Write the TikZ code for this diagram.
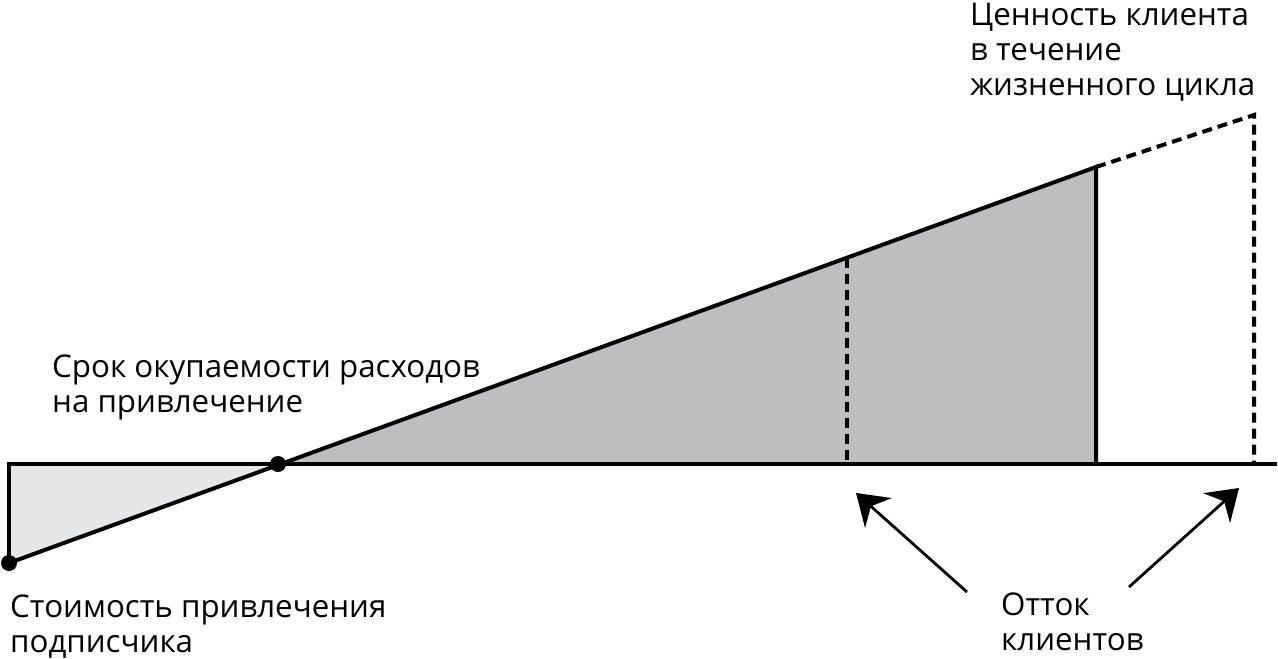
\documentclass[tikz,border=0pt]{standalone}
\usepackage{fontspec}
\setmainfont{Open Sans}
\usetikzlibrary{arrows.meta}
\definecolor{lightfill}{HTML}{E6E7E8}
\definecolor{darkfill}{HTML}{BCBEC0}
\tikzset{
  main/.style={line width=4pt, line join=miter},
  dashline/.style={line width=4pt, dash pattern=on 10pt off 6pt},
  lbl/.style={anchor=north west, inner sep=0pt, align=left, font=\fontsize{31.3}{35}\selectfont},
  arr/.style={line width=2.8pt, -{Stealth[length=30pt,width=40pt,inset=10pt]}},
  dot/.style={circle, fill=black, minimum size=16pt, inner sep=0pt}
}
\begin{document}
\begin{tikzpicture}[x=1pt,y=-1pt]
\useasboundingbox (0,0) rectangle (1278,659);
\coordinate (O) at (9,464);
\coordinate (A) at (9,563);
\coordinate (P) at (278,464);
\coordinate (Q) at (847,257.5);
\coordinate (Qb) at (847,464);
\coordinate (R) at (1096,167);
\coordinate (Rb) at (1096,464);
\coordinate (S) at (1254,115);
\coordinate (Sb) at (1254,464);
\coordinate (E) at (1277,464);
% fills
\fill[lightfill] (O) -- (P) -- (A) -- cycle;
\fill[darkfill] (P) -- (R) -- (Rb) -- cycle;
% lines
\draw[dashline] (Q) -- (Qb);
\draw[dashline] (R) -- (S) -- (Sb);
\draw[main] (A) -- (O) -- (E);
\draw[main] (A) -- (R) -- (Rb);
\node[dot] (dA) at (A) {};
\node[dot] (dP) at (P) {};
% arrows
\coordinate (a1s) at (967,592);
\coordinate (a1e) at (856,493);
\coordinate (a2s) at (1129,587);
\coordinate (a2e) at (1239,488);
\draw[arr] (a1s) -- (a1e);
\draw[arr] (a2s) -- (a2e);
% labels
\node[lbl] (t1) at (10,595) {Стоимость привлечения\\подписчика};
\node[lbl] (t2) at (52,355) {Срок окупаемости расходов\\на привлечение};
\node[lbl] (t3) at (970,3) {Ценность клиента\\в течение\\жизненного цикла};
\node[lbl] (t4) at (1001,593) {Отток\\клиентов};
\end{tikzpicture}
\end{document}
